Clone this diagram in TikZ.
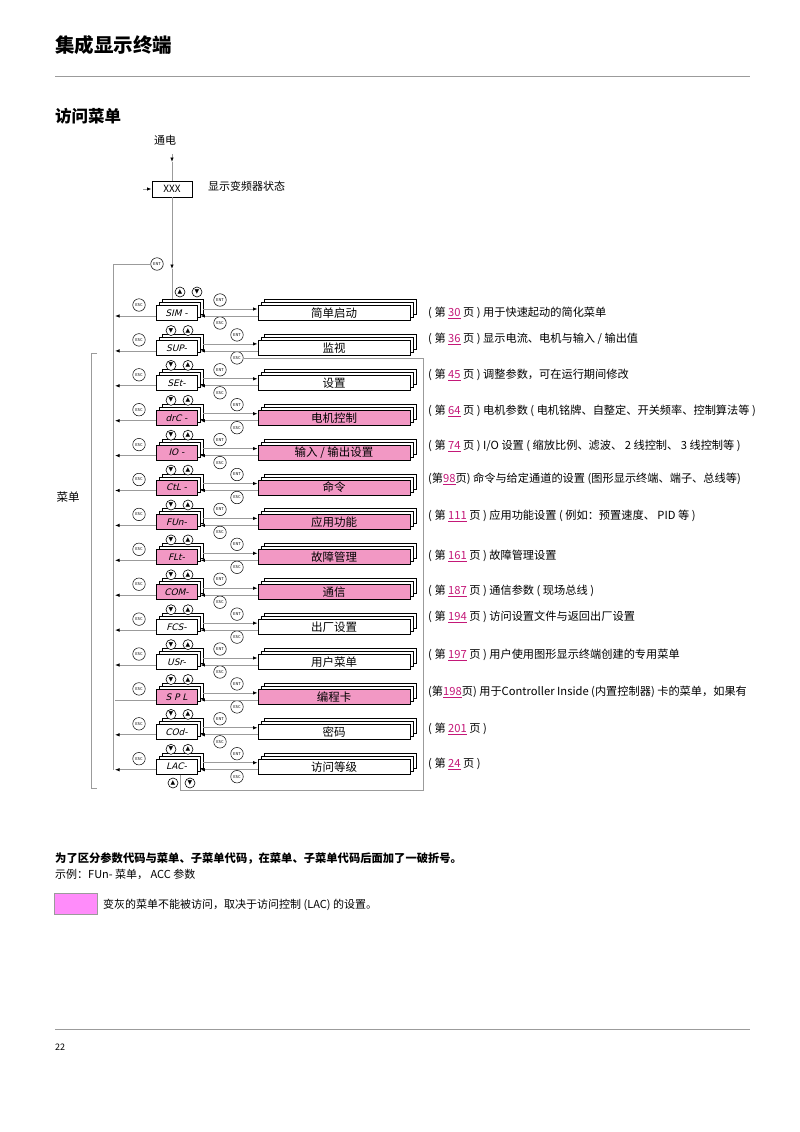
\documentclass[tikz,border=0pt]{standalone}
\usepackage{fontspec}
\setmainfont{Noto Sans CJK SC}
\newfontfamily\segfont[FakeSlant=0.25]{DejaVu Sans}
\newfontfamily\dejavusym{DejaVu Sans}
\usetikzlibrary{arrows.meta,shadows,backgrounds}
\definecolor{menupink}{RGB}{242,152,196}
\definecolor{keypink}{RGB}{255,140,250}
\definecolor{pagepink}{RGB}{196,24,120}
\definecolor{linegray}{RGB}{155,155,155}
\newcommand{\pg}[1]{{\color{pagepink}\underline{#1}}}
\newcommand{\fsz}[1]{\fontsize{#1}{#1}\selectfont}

\begin{document}
\begin{tikzpicture}[x=1pt, y=-1pt,
    every node/.style={inner sep=0pt},
    gray line/.style={draw=linegray, line width=0.8pt},
    tip line/.style={gray line, -{Latex[length=4.5pt,width=3.5pt,black]}},
    stacked/.style={copy shadow={fill=white, shadow xshift=6pt, shadow yshift=6pt},
                    copy shadow={fill=white, shadow xshift=3pt, shadow yshift=3pt}},
    codebox/.style={draw, line width=0.9pt, stacked, minimum width=41pt, minimum height=15pt, font=\segfont\fsz{9}},
    menubox/.style={draw, line width=0.9pt, stacked, minimum width=152pt, minimum height=15pt, font=\fsz{11.5}},
    keybtn/.style={draw, circle, fill=white, line width=0.5pt, minimum size=12.5pt, font=\fsz{4}},
    arrowbtn/.style={draw, circle, fill=white, line width=0.6pt, minimum size=10pt, font=\dejavusym\fsz{6}},
    desc/.style={anchor=west, font=\fsz{11.2}},
  ]
\useasboundingbox (0,0) rectangle (800,1132);
\fill[white] (0,0) rectangle (800,1132);

% page header
\node[anchor=west, font=\bfseries\fsz{19.5}] (title) at (55,45) {集成显示终端};
\coordinate (rulel) at (55,76);
\coordinate (ruler) at (750,76);
\draw[gray line] (rulel) -- (ruler);
\node[anchor=west, font=\bfseries\fsz{16.5}] (section) at (55,116) {访问菜单};

% power on
\node[font=\fsz{11}] (power) at (165,140) {通电};
\coordinate (pwr) at (172,154);
\coordinate (pwrtip) at (172,162);
\node[draw, line width=0.9pt, minimum width=40pt, minimum height=16pt, font=\fsz{10}] (xxx) at (172,189) {XXX};
\node[anchor=west, font=\fsz{11}] (xxxtext) at (208,186) {显示变频器状态};
\coordinate (xxxin) at (143,189);
\draw[tip line] (pwr) -- (pwrtip);
\draw[gray line] (pwrtip) -- (xxx.north);
\draw[tip line] (xxxin) -- (xxx.west);

% ENT loop back to the top
\node[keybtn] (entloop) at (157,264) {ENT};
\coordinate (enttip) at (172,269);
\coordinate (railbot) at (113,770);
\coordinate (railtip) at (115,770);
\draw[gray line] (railbot) |- (entloop.west);
\draw[tip line] (xxx.south) -- (enttip);

% menu rows
\foreach \i/\code/\name/\col in {
    1/SIM -/简单启动/white,
    2/SUP-/监视/white,
    3/SEt-/设置/white,
    4/drC -/电机控制/menupink,
    5/IO -/{输入 / 输出设置}/menupink,
    6/CtL -/命令/menupink,
    7/FUn-/应用功能/menupink,
    8/FLt-/故障管理/menupink,
    9/COM-/通信/menupink,
    10/FCS-/出厂设置/white,
    11/USr-/用户菜单/white,
    12/S P L/编程卡/menupink,
    13/COd-/密码/white,
    14/LAC-/访问等级/white}{
  \pgfmathsetmacro\ry{313+34.9*(\i-1)}
  \pgfmathsetmacro\kx{isodd(\i) ? 220 : 237}
  \node[codebox, fill=\col] (code\i) at (176.5,\ry) {\code};
  \node[menubox, fill=\col] (menu\i) at (334,\ry) {\name};
  \node[keybtn] (ent\i) at (\kx,\ry-13) {ENT};
  \node[keybtn] (esc\i) at (\kx,\ry+10) {ESC};
  \node[keybtn] (quit\i) at (139,\ry-8) {ESC};
  \draw[tip line] ([xshift=6pt,yshift=4pt]code\i.east) -- ([yshift=4pt]menu\i.west);
  \draw[tip line] ([yshift=-3pt]menu\i.west) -- ([xshift=3pt,yshift=-3pt]code\i.east);
  \ifnum\i=12
    \draw[gray line] ([yshift=-3pt]code\i.west) -- ([yshift=-3pt]code\i.west -| railtip);
  \else
    \draw[tip line] ([yshift=-3pt]code\i.west) -- ([yshift=-3pt]code\i.west -| railtip);
  \fi
}

% main spine behind the code boxes
\begin{scope}[on background layer]
  \draw[gray line] ([xshift=2.5pt]code1.center) -- ([xshift=2.5pt]code14.center);
\end{scope}
\draw[gray line] (enttip) -- ([yshift=6pt]code1.north -| enttip);

% up / down keys
\node[arrowbtn] (up0) at (180,292) {▲};
\node[arrowbtn] (down0) at (197,292) {▼};
\foreach \i in {1,...,13}{
  \pgfmathsetmacro\ry{313+34.9*(\i-1)+17.5}
  \node[arrowbtn] (down\i) at (171,\ry) {▼};
  \node[arrowbtn] (up\i) at (188,\ry) {▲};
}
\node[arrowbtn] (up14) at (173,783) {▲};
\node[arrowbtn] (down14) at (190,783) {▼};

% ESC return frame
\coordinate (framebr) at (423,790);
\draw[gray line] ([xshift=4pt]code14.south) |- (framebr) -- (framebr |- esc2.east) -- (esc2.east);

% menu bracket
\coordinate (brtop) at (97,353);
\coordinate (brbot) at (97,788);
\draw[gray line] (brtop) -- ++(-6,0) |- (brbot);
\node[font=\fsz{11.5}] (menulabel) at (68,497) {菜单};

% descriptions
\foreach \i/\dy/\txt in {
    1/313/{( 第 \pg{30} 页 ) 用于快速起动的简化菜单},
    2/339/{( 第 \pg{36} 页 ) 显示电流、电机与输入 / 输出值},
    3/375/{( 第 \pg{45} 页 ) 调整参数，可在运行期间修改},
    4/411/{( 第 \pg{64} 页 ) 电机参数 ( 电机铭牌、自整定、开关频率、控制算法等 )},
    5/446/{( 第 \pg{74} 页 ) I/O 设置 ( 缩放比例、滤波、 2 线控制、 3 线控制等 )},
    6/479/{(第\pg{98}页) 命令与给定通道的设置 (图形显示终端、端子、总线等)},
    7/516/{( 第 \pg{111} 页 ) 应用功能设置 ( 例如：预置速度、 PID 等 )},
    8/556/{( 第 \pg{161} 页 ) 故障管理设置},
    9/591/{( 第 \pg{187} 页 ) 通信参数 ( 现场总线 )},
    10/617/{( 第 \pg{194} 页 ) 访问设置文件与返回出厂设置},
    11/655/{( 第 \pg{197} 页 ) 用户使用图形显示终端创建的专用菜单},
    12/692/{(第\pg{198}页) 用于Controller Inside (内置控制器) 卡的菜单，如果有},
    13/729/{( 第 \pg{201} 页 )},
    14/764/{( 第 \pg{24} 页 )}}{
  \node[desc] (desc\i) at (428,\dy) {\txt};
}

% notes
\node[anchor=west, font=\bfseries\fsz{11.3}] (note1) at (55,858) {为了区分参数代码与菜单、子菜单代码，在菜单、子菜单代码后面加了一破折号。};
\node[anchor=west, font=\fsz{11}] (note2) at (55,874) {示例：FUn- 菜单， ACC 参数};
\node[draw=linegray, fill=keypink, minimum width=43pt, minimum height=21pt] (key) at (75.5,903.5) {};
\node[anchor=west, font=\fsz{11}] (keytext) at (103,905) {变灰的菜单不能被访问，取决于访问控制 (LAC) 的设置。};

% page footer
\coordinate (footl) at (55,1029);
\coordinate (footr) at (750,1029);
\draw[gray line] (footl) -- (footr);
\node[font=\fsz{9}] (pagenum) at (60,1047) {22};
\end{tikzpicture}
\end{document}
